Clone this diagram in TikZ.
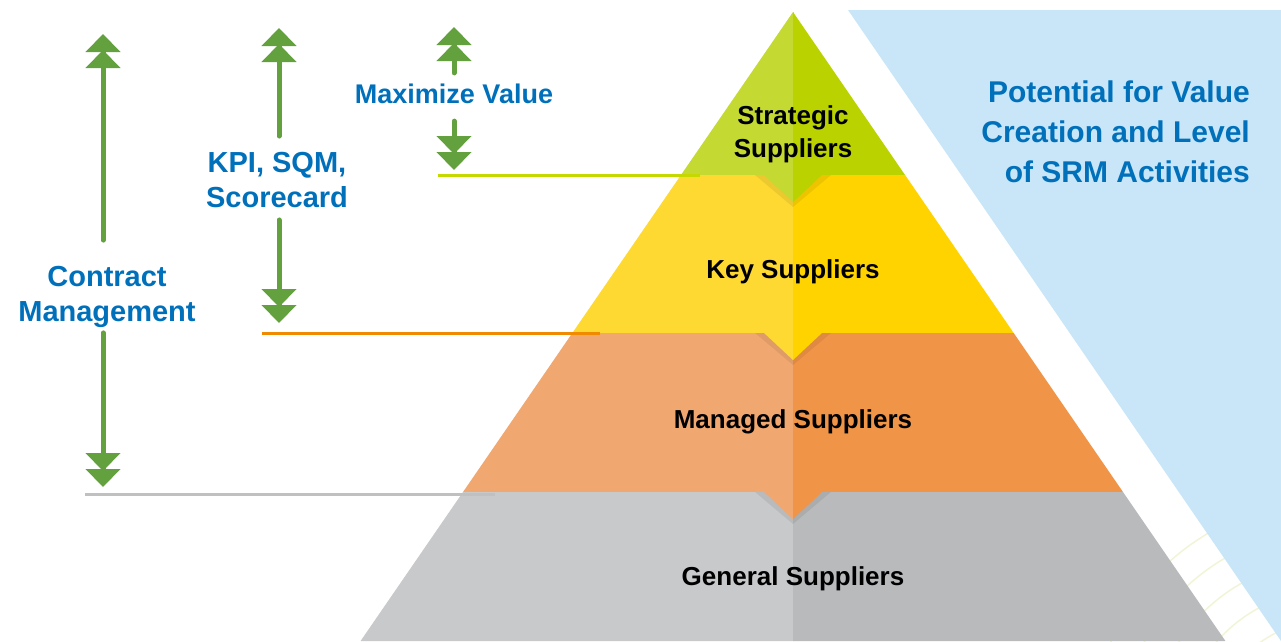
\documentclass[tikz,border=0pt]{standalone}
\usepackage{fontspec}
\setmainfont{Liberation Sans}
\usetikzlibrary{arrows.meta, positioning}
\definecolor{colBlueBg}{HTML}{C8E6F8}
\definecolor{colBlueText}{HTML}{0070BB}
\definecolor{colArrow}{HTML}{63A03E}
\definecolor{colArc}{HTML}{F1F4D6}
\definecolor{colStratL}{HTML}{C4D932}
\definecolor{colStratR}{HTML}{BAD200}
\definecolor{colKeyL}{HTML}{FED932}
\definecolor{colKeyR}{HTML}{FED300}
\definecolor{colManL}{HTML}{F1A870}
\definecolor{colManR}{HTML}{F09448}
\definecolor{colGenL}{HTML}{C8C9CB}
\definecolor{colGenR}{HTML}{B9BABC}
\definecolor{colLineStrat}{HTML}{C5D800}
\definecolor{colLineKey}{HTML}{F08A00}
\definecolor{colLineMan}{HTML}{C0C0C0}

\begin{document}
\begin{tikzpicture}[x=1pt, y=-1pt,
  layerlabel/.style={font=\fontsize{26}{33}\selectfont\bfseries, text=black, align=center, inner sep=0pt},
  sidelabel/.style={font=\fontsize{29}{35}\selectfont\bfseries, text=colBlueText, align=center, inner sep=0pt},
  updown/.style={draw=colArrow, line width=5pt, line cap=round,
    -{Triangle[width=34pt,length=18pt,sep=-2pt] Triangle[width=34pt,length=18pt]}},
  levelline/.style={line width=3pt}]
  % Parameters
  \def\apexX{793}
  \def\apexY{12}
  \def\slope{0.6875}

  \useasboundingbox (0,0) rectangle (1281,641);

  % Faint fingerprint arcs (only seen in the white band)
  \begin{scope}
    \clip (0,0) rectangle (1281,641);
    \foreach \r in {30,60,...,240} {
      \draw[colArc, line width=1.5pt] (1330,740) circle (\r);
    }
  \end{scope}

  % Blue background wedge
  \fill[colBlueBg] (848,10) -- (1281,10) -- (1281,641) -- cycle;

  % Pyramid layers, light left half and dark right half
  \foreach \yt/\yb/\cl/\cr in {12/175/colStratL/colStratR, 175/333/colKeyL/colKeyR,
                               333/492/colManL/colManR, 492/641/colGenL/colGenR} {
    \pgfmathsetmacro\wt{(\yt-\apexY)*\slope}
    \pgfmathsetmacro\wb{(\yb-\apexY)*\slope}
    \fill[\cl] (\apexX-\wt,\yt) -- (\apexX+0.5,\yt) -- (\apexX+0.5,\yb) -- (\apexX-\wb,\yb) -- cycle;
    \fill[\cr] (\apexX,\yt) -- (\apexX+\wt,\yt) -- (\apexX+\wb,\yb) -- (\apexX,\yb) -- cycle;
  }

  % Notches pointing down into the next layer
  \foreach \yb/\cl/\cr in {175/colStratL/colStratR, 333/colKeyL/colKeyR, 492/colManL/colManR} {
    \fill[black, opacity=0.07] (\apexX-38,\yb) -- (\apexX,\yb+32) -- (\apexX+38,\yb) -- cycle;
    \fill[\cl] (\apexX-30,\yb-1) -- (\apexX,\yb+27) -- (\apexX+0.5,\yb-1) -- cycle;
    \fill[\cr] (\apexX,\yb-1) -- (\apexX,\yb+27) -- (\apexX+30,\yb-1) -- cycle;
  }

  % Level lines
  \draw[levelline, colLineStrat] (438,175) -- (700,175);
  \draw[levelline, colLineKey] (262,333) -- (600,333);
  \draw[levelline, colLineMan] (85,494) -- (495,494);

  % Layer labels
  \node[layerlabel] (strat) at (793,134) {Strategic\\Suppliers};
  \node[layerlabel] (key) at (793,272) {Key Suppliers};
  \node[layerlabel] (man) at (793,422) {Managed Suppliers};
  \node[layerlabel] (gen) at (793,579) {General Suppliers};

  \node[sidelabel, font=\fontsize{30}{40}\selectfont\bfseries, align=right, anchor=east]
    (pot) at (1250,132) {Potential for Value\\Creation and Level\\of SRM Activities};

  % Side labels with their arrows
  \node[sidelabel] (cm) at (107,297) {Contract\\Management};
  \node[sidelabel] (kpi) at (277,180) {KPI, SQM,\\Scorecard};
  \node[sidelabel, font=\fontsize{27}{33}\selectfont\bfseries] (maxv) at (454,94) {Maximize Value};

  \coordinate (cmTop) at (103,34);
  \coordinate (cmBot) at (103,487);
  \coordinate (kpiTop) at (279,28);
  \coordinate (kpiBot) at (279,323);
  \coordinate (maxTop) at (454,27);
  \coordinate (maxBot) at (454,170);

  \draw[updown, shorten <=26pt] (cm.north -| cmTop) -- (cmTop);
  \draw[updown, shorten <=5pt] (cm.south -| cmBot) -- (cmBot);
  \draw[updown, shorten <=16pt] (kpi.north -| kpiTop) -- (kpiTop);
  \draw[updown, shorten <=12pt] (kpi.south -| kpiBot) -- (kpiBot);
  \draw[updown, shorten <=11pt] (maxv.north) -- (maxTop);
  \draw[updown, shorten <=17pt] (maxv.south) -- (maxBot);
\end{tikzpicture}
\end{document}
